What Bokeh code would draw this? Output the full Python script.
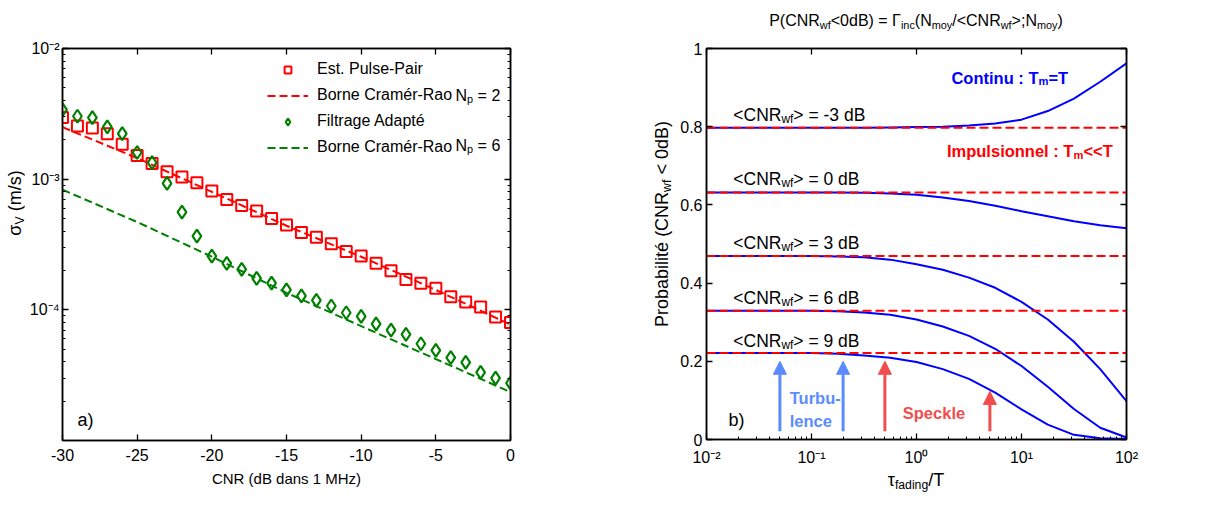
import math
from bokeh.plotting import figure
from bokeh.models import (LogAxis, LinearAxis, FixedTicker, CustomJSTickFormatter, Label,
                          Legend, LegendItem, Arrow, NormalHead, Range1d, Div)
from bokeh.layouts import row, column
from bokeh.embed import file_html
from bokeh.resources import INLINE

# ---------------- data : panel a) ----------------
cnr_db = [-30, -29, -28, -27, -26, -25, -24, -23, -22, -21, -20, -19, -18, -17, -16, -15,
          -14, -13, -12, -11, -10, -9, -8, -7, -6, -5, -4, -3, -2, -1, 0]
pulse_pair = [2.96e-3, 2.55e-3, 2.46e-3, 2.23e-3, 1.85e-3, 1.52e-3, 1.32e-3, 1.14e-3, 1.04e-3,
              9.4e-4, 8.1e-4, 7.0e-4, 6.3e-4, 5.7e-4, 5.0e-4, 4.45e-4, 3.9e-4, 3.6e-4, 3.2e-4,
              2.8e-4, 2.58e-4, 2.27e-4, 1.99e-4, 1.71e-4, 1.60e-4, 1.46e-4, 1.26e-4, 1.15e-4,
              1.05e-4, 8.8e-5, 8.0e-5]
filtrage = [3.4e-3, 3.03e-3, 2.96e-3, 2.51e-3, 2.23e-3, 1.60e-3, 1.34e-3, 9.3e-4, 5.6e-4,
            3.67e-4, 2.58e-4, 2.27e-4, 2.04e-4, 1.74e-4, 1.60e-4, 1.42e-4, 1.28e-4, 1.18e-4,
            1.07e-4, 9.5e-5, 8.9e-5, 7.8e-5, 7.0e-5, 6.5e-5, 5.5e-5, 4.9e-5, 4.3e-5, 3.96e-5,
            3.32e-5, 3.0e-5, 2.75e-5]
crb_x = [-30, -25, -20, -15, -10, -5, 0]
crb_np2 = [2.5e-3, 1.45e-3, 8.0e-4, 4.4e-4, 2.55e-4, 1.42e-4, 7.7e-5]
crb_np6 = [8.3e-4, 4.7e-4, 2.55e-4, 1.35e-4, 7.5e-5, 4.2e-5, 2.35e-5]
x_ticks_a = [-30, -25, -20, -15, -10, -5, 0]
y_ticks_a = [1e-4, 1e-3, 1e-2]

# ---------------- data : panel b) ----------------
tau = [0.01, 0.1, 0.178, 0.316, 0.562, 1.0, 1.78, 3.16, 5.62, 10.0, 17.8, 31.6, 56.2, 100.0]
cont_m3 = [0.797, 0.797, 0.797, 0.797, 0.798, 0.799, 0.800, 0.803, 0.808, 0.818, 0.840, 0.872, 0.915, 0.962]
cont_0 = [0.632, 0.632, 0.632, 0.631, 0.629, 0.626, 0.619, 0.610, 0.598, 0.584, 0.571, 0.558, 0.548, 0.540]
cont_3 = [0.469, 0.469, 0.468, 0.466, 0.460, 0.448, 0.434, 0.414, 0.388, 0.352, 0.307, 0.250, 0.180, 0.098]
cont_6 = [0.329, 0.329, 0.328, 0.325, 0.319, 0.307, 0.289, 0.265, 0.232, 0.188, 0.135, 0.078, 0.030, 0.005]
cont_9 = [0.221, 0.221, 0.219, 0.215, 0.209, 0.198, 0.180, 0.155, 0.120, 0.077, 0.038, 0.012, 0.003, 0.001]
impuls_levels = [0.797, 0.632, 0.469, 0.329, 0.221]
level_names = ["-3 dB", "0 dB", "3 dB", "6 dB", "9 dB"]
level_label_y = [0.830, 0.666, 0.503, 0.362, 0.252]
turb_arrows_x = [0.05, 0.2]
speckle_arrows_x = [0.5, 5.0]
speckle_arrows_top = [0.2, 0.123]
turb_arrows_top = [0.2, 0.2]
arrow_bottom = 0.021
x_ticks_b = [0.01, 0.1, 1, 10, 100]
y_ticks_b = [0, 0.2, 0.4, 0.6, 0.8, 1.0]

FONT = "Liberation Sans"

# Arial-metric widths (per 1000 em) used to compose sub/superscripts
W_REG = {' ': 278, '(': 333, ')': 333, '-': 333, '.': 278, '/': 278, ':': 278, ';': 278,
         '<': 584, '=': 584, '>': 584, 'B': 667, 'C': 722, 'N': 722, 'P': 667, 'R': 722,
         'T': 611, 'V': 667, 'M': 833, 'H': 722, 'a': 556, 'b': 556, 'c': 500, 'd': 556,
         'e': 556, 'f': 278, 'g': 556, 'i': 222, 'l': 222, 'm': 833, 'n': 556, 'o': 556,
         'p': 556, 'r': 333, 's': 500, 't': 278, 'u': 556, 'w': 722, 'y': 500, 'z': 500}
W_BOLD = {' ': 278, ':': 333, '<': 584, '=': 584, '-': 333, 'C': 722, 'I': 278, 'S': 667,
          'T': 611, 'a': 556, 'b': 611, 'c': 556, 'e': 556, 'i': 278, 'k': 556, 'l': 278,
          'm': 889, 'n': 611, 'o': 611, 'p': 611, 'r': 389, 's': 556, 't': 333, 'u': 611}


def text_w(s, size, bold=False):
    tbl = W_BOLD if bold else W_REG
    return sum(tbl.get(c, 556) for c in s) * size / 1000.0


def rich(p, x, y, parts, size, color="black", bold=False):
    """Compose text with subscripts from several Labels anchored at one data point."""
    ratio = 0.68
    pos = 0.0
    for t, k in parts:
        s = size if k == "n" else size * ratio
        shift = 0.0 if k == "n" else -0.22 * size
        stripped = t.lstrip(" ")
        lead = text_w(t[:len(t) - len(stripped)], s, bold)   # SVG drops leading spaces
        p.add_layout(Label(x=x, y=y, text=stripped, x_offset=pos + lead, y_offset=shift,
                           text_font=FONT, text_font_size=f"{s:.1f}px", text_color=color,
                           text_font_style="bold" if bold else "normal",
                           text_baseline="alphabetic", text_align="left"))
        pos += text_w(t, s, bold)


SUB = '<span style="font-size:0.68em;vertical-align:-0.28em;line-height:0">{}</span>'


def html_rich(parts):
    out = []
    for t, k in parts:
        t = t.replace("&", "&amp;").replace("<", "&lt;").replace(">", "&gt;")
        out.append(t if k == "n" else SUB.format(t))
    return "".join(out)


def text_div(html, width, height, box_style, inner_style=""):
    txt = (f'<div style="width:{width}px;height:{height}px;box-sizing:border-box;'
           f'font-family:\'Liberation Sans\',Arial,sans-serif;color:black;{box_style}">'
           f'<div style="white-space:nowrap;{inner_style}">{html}</div></div>')
    return Div(text=txt, width=width, height=height, margin=0)


pow10_js = """
const e = Math.round(Math.log10(tick));
const m = {'-':'\u207b','0':'\u2070','1':'\u00b9','2':'\u00b2','3':'\u00b3','4':'\u2074','5':'\u2075'};
return '10' + String(e).split('').map(c => m[c]).join('');
"""
blank_js = "return '';"
plain_js = "return String(tick);"


def style_axis(ax, size="16px", standoff=6):
    ax.axis_line_color = "black"
    ax.axis_line_width = 1.5
    ax.major_tick_line_color = "black"
    ax.major_tick_line_width = 1.3
    ax.minor_tick_line_color = "black"
    ax.major_tick_in = 6
    ax.major_tick_out = 0
    ax.minor_tick_in = 3
    ax.minor_tick_out = 0
    ax.major_label_text_font = FONT
    ax.major_label_text_font_size = size
    ax.major_label_text_color = "black"
    ax.major_label_standoff = standoff
    ax.axis_label_text_font = FONT
    ax.axis_label_text_font_style = "normal"
    ax.axis_label_text_color = "black"


def mirror(ax):
    style_axis(ax, "0px", 0)
    return ax


# =============== panel a) ===============
p1 = figure(x_range=Range1d(-30, 0), y_range=Range1d(1e-5, 1e-2), y_axis_type="log",
            width=584, height=498, min_border_left=38, min_border_right=98,
            min_border_top=48, min_border_bottom=58, output_backend="svg",
            toolbar_location=None, background_fill_color="white", border_fill_color="white")
p1.grid.visible = False
p1.outline_line_color = "black"
p1.outline_line_width = 1.5

minor_a = [k * 10.0 ** e for e in (-5, -4, -3) for k in range(2, 10)]
p1.xaxis.ticker = FixedTicker(ticks=x_ticks_a, minor_ticks=[])
p1.xaxis.formatter = CustomJSTickFormatter(code=plain_js)
p1.yaxis.ticker = FixedTicker(ticks=y_ticks_a, minor_ticks=minor_a)
p1.yaxis.formatter = CustomJSTickFormatter(code=pow10_js)
for ax in p1.xaxis:
    style_axis(ax, "16px", 8)
    ax.axis_label = "CNR (dB dans 1 MHz)"
    ax.axis_label_text_font_size = "15px"
    ax.axis_label_standoff = 6
for ax in p1.yaxis:
    style_axis(ax, "16px", 3)

p1.add_layout(mirror(LinearAxis(ticker=FixedTicker(ticks=x_ticks_a, minor_ticks=[]),
                                formatter=CustomJSTickFormatter(code=blank_js))), "above")
p1.add_layout(mirror(LogAxis(ticker=FixedTicker(ticks=y_ticks_a, minor_ticks=minor_a),
                             formatter=CustomJSTickFormatter(code=blank_js))), "right")

RED = "#ff0000"
GREEN = "#008000"
r_crb2 = p1.line(crb_x, crb_np2, line_color=RED, line_width=2, line_dash="8 4")
r_crb6 = p1.line(crb_x, crb_np6, line_color=GREEN, line_width=2, line_dash="8 4")
r_pp = p1.scatter(cnr_db, pulse_pair, marker="square", size=11, fill_color=None,
                  line_color=RED, line_width=2)
r_fa = p1.scatter(cnr_db, filtrage, marker="diamond", size=13, fill_color=None,
                  line_color=GREEN, line_width=2.2)

legend = Legend(items=[LegendItem(label="Est. Pulse-Pair", renderers=[r_pp]),
                       LegendItem(label="Borne Cramér-Rao", renderers=[r_crb2]),
                       LegendItem(label="Filtrage Adapté", renderers=[r_fa]),
                       LegendItem(label="Borne Cramér-Rao", renderers=[r_crb6])],
                location=(205, 284), border_line_alpha=0, background_fill_alpha=0,
                glyph_width=41, glyph_height=17, label_height=17, label_standoff=9,
                spacing=8, padding=0, margin=0, label_text_font=FONT,
                label_text_font_size="16px", label_text_color="black")
p1.add_layout(legend)

rich(p1, -3.68, 4.37e-3, [("N", "n"), ("p", "sub"), (" = 2", "n")], 16)
rich(p1, -3.68, 1.82e-3, [("N", "n"), ("p", "sub"), (" = 6", "n")], 16)
rich(p1, -29.0, 1.44e-5, [("a)", "n")], 18)

# =============== panel b) ===============
p2 = figure(x_range=Range1d(0.01, 100), y_range=Range1d(0, 1), x_axis_type="log",
            width=470, height=428, min_border_left=30, min_border_right=20,
            min_border_top=8, min_border_bottom=28, output_backend="svg",
            toolbar_location=None, background_fill_color="white", border_fill_color="white")
p2.grid.visible = False
p2.outline_line_color = "black"
p2.outline_line_width = 1.5

minor_b = [k * 10.0 ** e for e in (-2, -1, 0, 1) for k in range(2, 10)]
p2.xaxis.ticker = FixedTicker(ticks=x_ticks_b, minor_ticks=minor_b)
p2.xaxis.formatter = CustomJSTickFormatter(code=pow10_js)
p2.yaxis.ticker = FixedTicker(ticks=y_ticks_b, minor_ticks=[])
p2.yaxis.formatter = CustomJSTickFormatter(
    code="return tick == 0 ? '0' : (Math.abs(tick - 1) < 1e-9 ? '1' : tick.toFixed(1));")
for ax in p2.xaxis:
    style_axis(ax, "16px", 9)
for ax in p2.yaxis:
    style_axis(ax, "16px", 4)

p2.add_layout(mirror(LogAxis(ticker=FixedTicker(ticks=x_ticks_b, minor_ticks=[]),
                             formatter=CustomJSTickFormatter(code=blank_js))), "above")
p2.add_layout(mirror(LinearAxis(ticker=FixedTicker(ticks=y_ticks_b, minor_ticks=[]),
                                formatter=CustomJSTickFormatter(code=blank_js))), "right")

BLUE = "#0000ff"
for curve in (cont_m3, cont_0, cont_3, cont_6, cont_9):
    p2.line(tau, curve, line_color=BLUE, line_width=2)
for lvl in impuls_levels:
    p2.line([tau[0], tau[-1]], [lvl, lvl], line_color=RED, line_width=2, line_dash="9 4")

LBLUE = "#5a8cff"
LRED = "#f24d4d"
for xa, ya in zip(turb_arrows_x, turb_arrows_top):
    p2.add_layout(Arrow(x_start=xa, y_start=arrow_bottom, x_end=xa, y_end=ya,
                        line_color=LBLUE, line_width=3,
                        end=NormalHead(size=13, fill_color=LBLUE, line_color=LBLUE)))
for xa, ya in zip(speckle_arrows_x, speckle_arrows_top):
    p2.add_layout(Arrow(x_start=xa, y_start=arrow_bottom, x_end=xa, y_end=ya,
                        line_color=LRED, line_width=3,
                        end=NormalHead(size=13, fill_color=LRED, line_color=LRED)))

for name, ly in zip(level_names, level_label_y):
    rich(p2, 0.018, ly, [("<CNR", "n"), ("wf", "sub"), ("> = " + name, "n")], 17.5)

rich(p2, 2.15, 0.925, [("Continu : T", "n"), ("m", "sub"), ("=T", "n")], 16.5, color=BLUE,
     bold=True)
rich(p2, 1.95, 0.738, [("Impulsionnel : T", "n"), ("m", "sub"), ("<<T", "n")], 16.5,
     color=RED, bold=True)
rich(p2, 0.062, 0.107, [("Turbu-", "n")], 16.5, color=LBLUE, bold=True)
rich(p2, 0.062, 0.047, [("lence", "n")], 16.5, color=LBLUE, bold=True)
rich(p2, 0.74, 0.069, [("Speckle", "n")], 16.5, color=LRED, bold=True)
rich(p2, 0.0162, 0.051, [("b)", "n")], 18)

# ---------------- texts outside the frames (HTML) ----------------
sigma_div = text_div(html_rich([("σ", "n"), ("V", "sub"), (" (m/s)", "n")]), 24, 498,
                     "display:flex;align-items:flex-start;justify-content:center;"
                     "padding-left:6px;padding-top:194px;",
                     "transform:rotate(-90deg);font-size:18px;line-height:18px;")
prob_div = text_div(html_rich([("Probabilité (CNR", "n"), ("wf", "sub"), (" < 0dB)", "n")]),
                    68, 428,
                    "display:flex;align-items:flex-start;justify-content:center;"
                    "padding-left:40px;padding-top:175px;",
                    "transform:rotate(-90deg);font-size:18px;line-height:18px;")
title_div = text_div(html_rich([("P(CNR", "n"), ("wf", "sub"), ("<0dB) = Γ", "n"), ("inc", "sub"),
                                ("(N", "n"), ("moy", "sub"), ("/<CNR", "n"), ("wf", "sub"),
                                (">;N", "n"), ("moy", "sub"), (")", "n")]), 538, 40,
                     "padding-left:78px;padding-top:13px;text-align:center;",
                     "font-size:16px;line-height:16px;")
xlab_div = text_div(html_rich([("τ", "n"), ("fading", "sub"), ("/T", "n")]), 538, 30,
                    "padding-left:78px;padding-top:3px;text-align:center;",
                    "font-size:18px;line-height:18px;")

layout = row(sigma_div, p1, column(title_div, row(prob_div, p2), xlab_div))
open("out.html", "w").write(file_html(layout, INLINE))
